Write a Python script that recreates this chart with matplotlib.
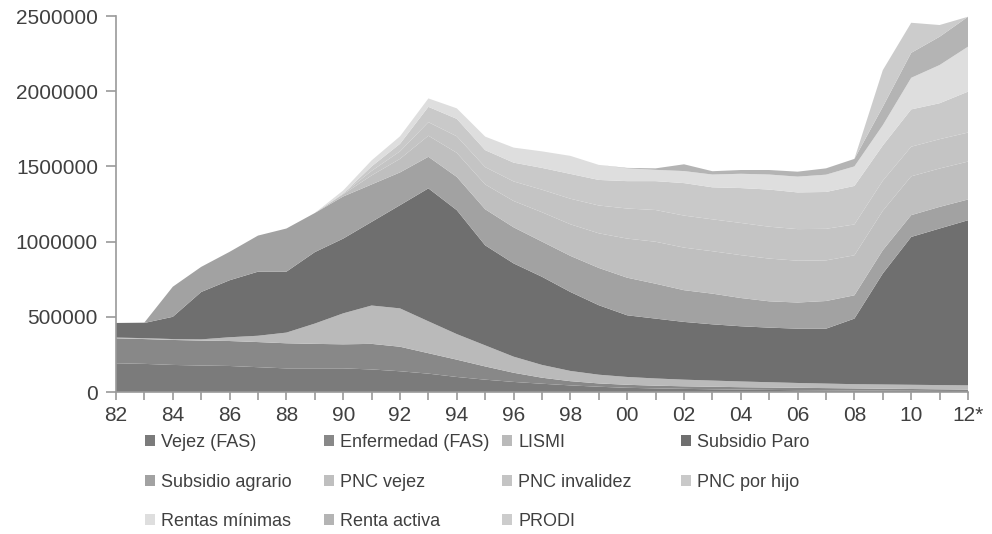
import matplotlib.pyplot as plt
from matplotlib.patches import Patch

years = list(range(1982, 2013))
tick_labels = ["82", "84", "86", "88", "90", "92", "94", "96", "98", "00",
               "02", "04", "06", "08", "10", "12*"]

# valores en miles de beneficiarios, 1982..2012
vejez_fas = [191, 187, 180, 176, 173, 165, 157, 157, 157, 150, 138, 122, 100, 82, 67, 55,
             44, 35, 28, 24, 21, 18, 16, 14, 12, 11, 10, 9, 8, 7, 6]
enfermedad_fas = [166, 165, 166, 166, 166, 167, 167, 163, 160, 170, 163, 136, 115, 88, 61, 40,
                  28, 22, 20, 18, 17, 17, 16, 16, 16, 15, 14, 13, 12, 11, 10]
lismi = [5, 6, 6, 8, 25, 42, 71, 135, 206, 255, 255, 212, 170, 140, 107, 85,
         68, 58, 52, 48, 44, 41, 38, 35, 32, 30, 28, 28, 28, 28, 28]
subsidio_paro = [97, 101, 148, 315, 379, 426, 405, 475, 497, 556, 686, 884, 824, 665, 620, 586,
                 525, 462, 410, 398, 384, 374, 367, 363, 361, 365, 436, 738, 983, 1041, 1098]
subsidio_agrario = [0, 3, 200, 167, 189, 240, 287, 260, 280, 249, 218, 210, 221, 240, 240, 234,
                    240, 248, 250, 232, 211, 204, 188, 175, 174, 184, 155, 155, 145, 144, 138]
pnc_vejez = [0, 0, 0, 0, 0, 0, 0, 0, 15, 60, 90, 140, 160, 165, 175, 195,
             210, 230, 260, 279, 283, 282, 285, 284, 278, 270, 266, 262, 258, 255, 252]
pnc_invalidez = [0, 0, 0, 0, 0, 0, 0, 0, 5, 30, 50, 90, 110, 115, 130, 150,
                 170, 185, 200, 211, 213, 212, 214, 212, 210, 210, 205, 200, 197, 195, 193]
pnc_hijo = [0, 0, 0, 0, 0, 0, 0, 0, 0, 30, 50, 102, 116, 113, 125, 145,
            165, 170, 182, 192, 216, 213, 232, 247, 244, 245, 256, 234, 248, 239, 272]
rentas_minimas = [0, 0, 0, 0, 0, 0, 0, 0, 20, 40, 50, 56, 70, 90, 100, 110,
                  120, 100, 85, 75, 80, 85, 95, 100, 105, 115, 130, 135, 210, 254, 299]
renta_activa = [0, 0, 0, 0, 0, 0, 0, 0, 0, 0, 0, 0, 0, 0, 0, 0,
                0, 0, 3, 10, 45, 22, 25, 30, 33, 42, 50, 122, 166, 188, 199]
prodi = [0, 0, 0, 0, 0, 0, 0, 0, 0, 0, 0, 0, 0, 0, 0, 0,
         0, 0, 0, 0, 0, 0, 0, 0, 0, 0, 0, 244, 200, 78, 0]

nombres = ["Vejez (FAS)", "Enfermedad (FAS)", "LISMI", "Subsidio Paro",
           "Subsidio agrario", "PNC vejez", "PNC invalidez", "PNC por hijo",
           "Rentas mínimas", "Renta activa", "PRODI"]
series = [vejez_fas, enfermedad_fas, lismi, subsidio_paro, subsidio_agrario,
          pnc_vejez, pnc_invalidez, pnc_hijo, rentas_minimas, renta_activa, prodi]
colores = ["#7b7b7b", "#888888", "#bababa", "#6f6f6f", "#a2a2a2", "#bfbfbf",
           "#c4c4c4", "#c9c9c9", "#dedede", "#b4b4b4", "#cccccc"]

plt.rcParams["font.family"] = ["Liberation Sans", "DejaVu Sans"]

fig = plt.figure(figsize=(9.92, 5.34), dpi=100)
ax = fig.add_axes([116 / 992, 1 - 392 / 534, 852 / 992, 376 / 534])

datos = [[v * 1000 for v in s] for s in series]
ax.stackplot(years, datos, colors=colores, linewidth=0)

ax.set_xlim(1982, 2012)
ax.set_ylim(0, 2500000)
ax.set_yticks(range(0, 2500001, 500000))
ax.set_yticklabels([str(v) for v in range(0, 2500001, 500000)])
ax.set_xticks(years)
ax.set_xticklabels([tick_labels[(y - 1982) // 2] if (y - 1982) % 2 == 0 else "" for y in years])

for s in ["top", "right"]:
    ax.spines[s].set_visible(False)
for s in ["left", "bottom"]:
    ax.spines[s].set_color("#9a9a9a")
    ax.spines[s].set_linewidth(1.2)
ax.tick_params(axis="y", colors="#9a9a9a", length=7, width=1.2, labelsize=15,
               labelcolor="#404040", pad=6)
ax.tick_params(axis="x", colors="#9a9a9a", length=6, width=1.2, labelsize=15,
               labelcolor="#404040", pad=4)

# leyenda en 4 columnas de ancho fijo, como en Excel
columnas = [[0, 4, 8], [1, 5, 9], [2, 6, 10], [3, 7]]
x_col = [145, 324, 502, 681]
for idx, x0 in zip(columnas, x_col):
    handles = [Patch(facecolor=colores[i], edgecolor="none") for i in idx]
    labels = [nombres[i] for i in idx]
    fig.legend(handles, labels, loc="upper left", bbox_to_anchor=(x0 / 992, 1 - 434 / 534),
               ncol=1, frameon=False, fontsize=13, handlelength=0.55, handleheight=0.55,
               handletextpad=0.35, labelspacing=1.25, labelcolor="#404040",
               borderaxespad=0, borderpad=0)

fig.savefig("out.png", dpi=100)
